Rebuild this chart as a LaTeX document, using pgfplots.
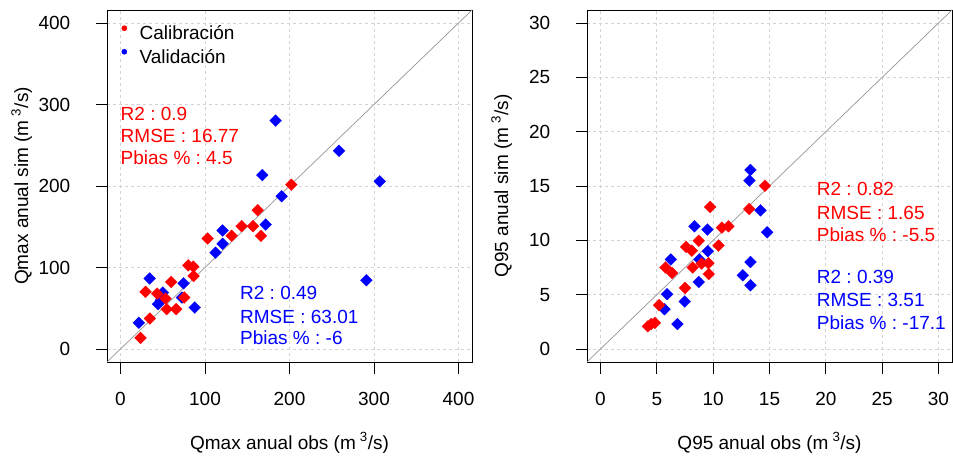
\documentclass[border=0pt]{standalone}
\usepackage{pgfplots}
\pgfplotsset{compat=1.18}
\usepackage{fontspec}
\setmainfont{Liberation Sans}
\frenchspacing
\newcommand{\F}{\fontsize{19bp}{22bp}\selectfont}
\definecolor{gridc}{RGB}{211,211,211}
\definecolor{linec}{RGB}{150,150,150}
\pgfplotsset{
  myax/.style={
    scale only axis, width=365bp, height=352bp,
    axis line style={line width=0.8bp, black},
    tick style={line width=0.8bp, black},
    xtick pos=bottom, ytick pos=left, tick align=outside,
    major tick length=11.5bp,
    grid=major,
    major grid style={gridc, dash pattern=on 3bp off 3bp, line width=0.8bp},
    /pgf/number format/assume math mode=true,
    every tick label/.append style={font=\F, inner sep=0pt},
    xticklabel style={anchor=north, yshift=-19bp},
    yticklabel style={anchor=east, xshift=-25bp},
    every axis x label/.style={at={(rel axis cs:0.5,0)}, anchor=base, yshift=-87bp, font=\F},
    every axis y label/.style={at={(rel axis cs:0,0.5)}, xshift=-79bp, rotate=90, anchor=base, font=\F},
  },
  redpts/.style={only marks, mark=square*, mark size=4.2bp, mark options={rotate=45, draw=red, fill=red, line width=0.2bp}},
  bluepts/.style={only marks, mark=square*, mark size=4.2bp, mark options={rotate=45, draw=blue, fill=blue, line width=0.2bp}},
}
\begin{document}
\begin{tikzpicture}
\useasboundingbox (0,0) rectangle (953bp,-456bp);
% ---------------- left panel ----------------
\begin{axis}[myax,
  at={(107bp,-362bp)}, anchor=south west,
  xmin=-16, xmax=416, ymin=-16, ymax=416,
  xtick={0,100,...,400}, ytick={0,100,...,400},
  xlabel={Qmax anual obs (m\hspace{4bp}\textsuperscript{3}/s)},
  ylabel={Qmax anual sim (m\hspace{4bp}\textsuperscript{3}/s)},
  legend style={at={(axis cs:1.2,397.6)}, anchor=north west, draw=none, fill=none,
    inner sep=0pt, outer sep=0pt, column sep=0pt, row sep=0pt, font=\F,
    nodes={inner sep=0pt, text height=15bp, text depth=8.5bp}},
  legend cell align=left,
  legend image code/.code={\fill[#1] (0bp,8.5bp) circle (2.6bp); \path[draw=none, fill=none] (-2.6bp,8.5bp) rectangle (15.2bp,8.6bp);},
]
\addlegendimage{color=red, fill=red}
\addlegendentry{Calibración}
\addlegendimage{color=blue, fill=blue}
\addlegendentry{Validación}
\addplot[bluepts, forget plot] coordinates {
(183.6,280.2) (258.6,243.2) (306.8,205.7) (167.8,213.4) (190.7,187.4)
(171.8,152.7) (120.8,145.4) (120.8,129.1) (112.5,118.1) (291.0,84.3)
(34.5,86.5) (74.6,80.6) (50.1,69.2) (51.0,62.5) (47.8,60.0)
(72.7,63.1) (44.4,55.0) (87.9,50.9) (21.7,32.1)
};
\addplot[redpts, forget plot] coordinates {
(202.2,201.6) (162.3,170.3) (143.3,150.7) (156.8,150.7) (166.2,138.9)
(131.5,138.9) (103.1,135.6) (80.2,102.6) (86.1,101.0) (86.5,89.6)
(60.0,82.3) (29.6,70.1) (43.4,67.9) (53.3,61.9) (75.4,63.1)
(54.5,48.9) (65.9,48.9) (34.7,37.4) (23.7,13.6)
};
\addplot[linec, line width=0.7bp, forget plot] coordinates {(-100,-100) (500,500)};
\node[anchor=base west, red, font=\F, inner sep=0pt] at (axis cs:0,280.2) {R2 : 0.9};
\node[anchor=base west, red, font=\F, inner sep=0pt] at (axis cs:0,253.2) {RMSE : 16.77};
\node[anchor=base west, red, font=\F, inner sep=0pt] at (axis cs:0,225.8) {Pbias \% : 4.5};
\node[anchor=base west, blue, font=\F, inner sep=0pt] at (axis cs:141.4,60.1) {R2 : 0.49};
\node[anchor=base west, blue, font=\F, inner sep=0pt] at (axis cs:141.4,31.3) {RMSE : 63.01};
\node[anchor=base west, blue, font=\F, inner sep=0pt] at (axis cs:141.4,4.9) {Pbias \% : -6};
\end{axis}
% ---------------- right panel ----------------
\begin{axis}[myax,
  at={(587bp,-362bp)}, anchor=south west,
  xmin=-1.2, xmax=31.2, ymin=-1.2, ymax=31.2,
  xtick={0,5,...,30}, ytick={0,5,...,30},
  xlabel={Q95 anual obs (m\hspace{4bp}\textsuperscript{3}/s)},
  ylabel={Q95 anual sim (m\hspace{4bp}\textsuperscript{3}/s)},
]
\addplot[bluepts] coordinates {
(13.31,16.48) (13.22,15.5) (14.2,12.76) (14.79,10.74) (13.31,8.0)
(12.63,6.78) (13.31,5.86) (8.34,11.29) (9.49,10.99) (9.52,9.0)
(8.78,8.24) (6.24,8.24) (8.72,6.16) (7.48,4.37) (5.91,5.04)
(5.68,3.66) (6.83,2.29)
};
\addplot[redpts] coordinates {
(14.6,15.02) (13.2,12.88) (9.73,13.07) (10.77,11.17) (11.35,11.29)
(8.72,9.96) (10.47,9.52) (7.6,9.4) (8.1,9.05) (9.58,7.9)
(8.98,7.86) (8.19,7.5) (5.77,7.5) (6.35,7.0) (9.61,6.9)
(7.5,5.62) (5.2,4.03) (4.82,2.4) (4.5,2.3) (4.2,2.08)
};
\addplot[linec, line width=0.7bp] coordinates {(-10,-10) (40,40)};
\node[anchor=base west, red, font=\F, inner sep=0pt] at (axis cs:19.19,14.08) {R2 : 0.82};
\node[anchor=base west, red, font=\F, inner sep=0pt] at (axis cs:19.19,11.94) {RMSE : 1.65};
\node[anchor=base west, red, font=\F, inner sep=0pt] at (axis cs:19.19,9.88) {Pbias \% : -5.5};
\node[anchor=base west, blue, font=\F, inner sep=0pt] at (axis cs:19.19,5.98) {R2 : 0.39};
\node[anchor=base west, blue, font=\F, inner sep=0pt] at (axis cs:19.19,3.89) {RMSE : 3.51};
\node[anchor=base west, blue, font=\F, inner sep=0pt] at (axis cs:19.19,1.75) {Pbias \% : -17.1};
\end{axis}
\end{tikzpicture}
\end{document}
